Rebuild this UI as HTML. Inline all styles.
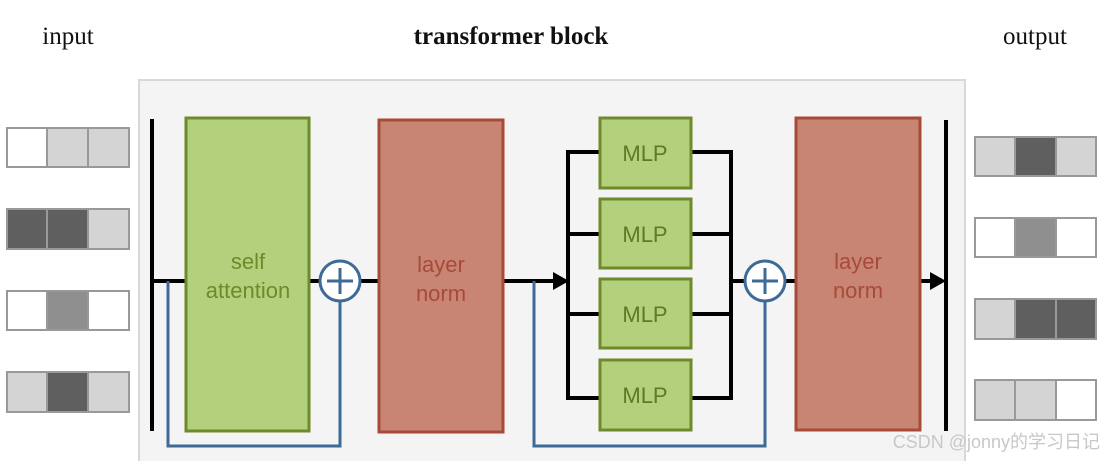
<!DOCTYPE html>
<html><head><style>body{margin:0;background:#fff}</style></head><body>
<svg width="1106" height="461" xmlns="http://www.w3.org/2000/svg">
<rect x="0" y="0" width="1106" height="461" fill="#fff"/>
<text x="68" y="44" font-family="Liberation Serif, serif" font-size="25" text-anchor="middle" fill="#111">input</text>
<text x="511" y="44" font-family="Liberation Serif, serif" font-size="25" font-weight="bold" text-anchor="middle" fill="#111">transformer block</text>
<text x="1035" y="44" font-family="Liberation Serif, serif" font-size="25" text-anchor="middle" fill="#111">output</text>
<rect x="139" y="80" width="826" height="390" fill="#f4f4f4" stroke="#d8d8d8" stroke-width="2"/>
<g stroke="#999" stroke-width="2">
<!-- input -->
<rect x="7" y="128" width="40" height="39" fill="#fff"/><rect x="47" y="128" width="41" height="39" fill="#d4d4d4"/><rect x="88" y="128" width="41" height="39" fill="#d4d4d4"/>
<rect x="7" y="209" width="40" height="40" fill="#5f5f5f"/><rect x="47" y="209" width="41" height="40" fill="#5f5f5f"/><rect x="88" y="209" width="41" height="40" fill="#d4d4d4"/>
<rect x="7" y="291" width="40" height="39" fill="#fff"/><rect x="47" y="291" width="41" height="39" fill="#8f8f8f"/><rect x="88" y="291" width="41" height="39" fill="#fff"/>
<rect x="7" y="372" width="40" height="40" fill="#d4d4d4"/><rect x="47" y="372" width="41" height="40" fill="#5f5f5f"/><rect x="88" y="372" width="41" height="40" fill="#d4d4d4"/>
<!-- output -->
<rect x="975" y="137" width="40" height="39" fill="#d4d4d4"/><rect x="1015" y="137" width="41" height="39" fill="#5f5f5f"/><rect x="1056" y="137" width="40" height="39" fill="#d4d4d4"/>
<rect x="975" y="218" width="40" height="39" fill="#fff"/><rect x="1015" y="218" width="41" height="39" fill="#8f8f8f"/><rect x="1056" y="218" width="40" height="39" fill="#fff"/>
<rect x="975" y="299" width="40" height="40" fill="#d4d4d4"/><rect x="1015" y="299" width="41" height="40" fill="#5f5f5f"/><rect x="1056" y="299" width="40" height="40" fill="#5f5f5f"/>
<rect x="975" y="380" width="40" height="40" fill="#d4d4d4"/><rect x="1015" y="380" width="41" height="40" fill="#d4d4d4"/><rect x="1056" y="380" width="40" height="40" fill="#fff"/>
</g>
<g stroke="#000" stroke-width="4" fill="none">
<line x1="152" y1="119" x2="152" y2="431"/>
<line x1="946" y1="120" x2="946" y2="431"/>
<line x1="152" y1="281" x2="186" y2="281"/>
<line x1="309" y1="281" x2="320" y2="281"/>
<line x1="360" y1="281" x2="379" y2="281"/>
<line x1="503" y1="281" x2="555" y2="281"/>
<polyline points="600,152 568,152 568,398 600,398"/>
<line x1="568" y1="234" x2="600" y2="234"/><line x1="568" y1="314" x2="600" y2="314"/>
<polyline points="691,152 731,152 731,398 691,398"/>
<line x1="691" y1="234" x2="731" y2="234"/><line x1="691" y1="314" x2="731" y2="314"/>
<line x1="731" y1="281" x2="745" y2="281"/>
<line x1="785" y1="281" x2="796" y2="281"/>
<line x1="920" y1="281" x2="934" y2="281"/>
</g>
<polygon points="553,272 569,281 553,290" fill="#000"/>
<polygon points="930,272 946,281 930,290" fill="#000"/>
<g stroke="#3d6a96" stroke-width="3" fill="none">
<polyline points="168,281 168,446 340,446 340,301"/>
<polyline points="534,281 534,446 765,446 765,301"/>
<circle cx="340" cy="281" r="20" fill="#fff"/>
<circle cx="765" cy="281" r="20" fill="#fff"/>
<line x1="327" y1="281" x2="353" y2="281"/><line x1="340" y1="268" x2="340" y2="294"/>
<line x1="752" y1="281" x2="778" y2="281"/><line x1="765" y1="268" x2="765" y2="294"/>
</g>
<g stroke="#6e8a2a" stroke-width="3" fill="#b3d17c">
<rect x="186" y="118" width="123" height="313"/>
<rect x="600" y="118" width="91" height="70"/>
<rect x="600" y="199" width="91" height="69"/>
<rect x="600" y="279" width="91" height="69"/>
<rect x="600" y="360" width="91" height="70"/>
</g>
<g stroke="#a84a38" stroke-width="3" fill="#c98574">
<rect x="379" y="120" width="124" height="312"/>
<rect x="796" y="118" width="124" height="312"/>
</g>
<g font-family="Liberation Sans, sans-serif" font-size="22" text-anchor="middle">
<text x="248" y="269" fill="#6e8a2a">self</text>
<text x="248" y="298" fill="#6e8a2a">attention</text>
<text x="441" y="272" fill="#a84a38">layer</text>
<text x="441" y="301" fill="#a84a38">norm</text>
<text x="858" y="269" fill="#a84a38">layer</text>
<text x="858" y="298" fill="#a84a38">norm</text>
<text x="645" y="161" fill="#5e7a22">MLP</text>
<text x="645" y="242" fill="#5e7a22">MLP</text>
<text x="645" y="322" fill="#5e7a22">MLP</text>
<text x="645" y="403" fill="#5e7a22">MLP</text>
</g>
<text x="1100" y="448" font-family="Liberation Sans, 'Noto Sans CJK SC', sans-serif" font-size="18" text-anchor="end" fill="#c8c8c8">CSDN @jonny的学习日记</text>
</svg>
</body></html>
